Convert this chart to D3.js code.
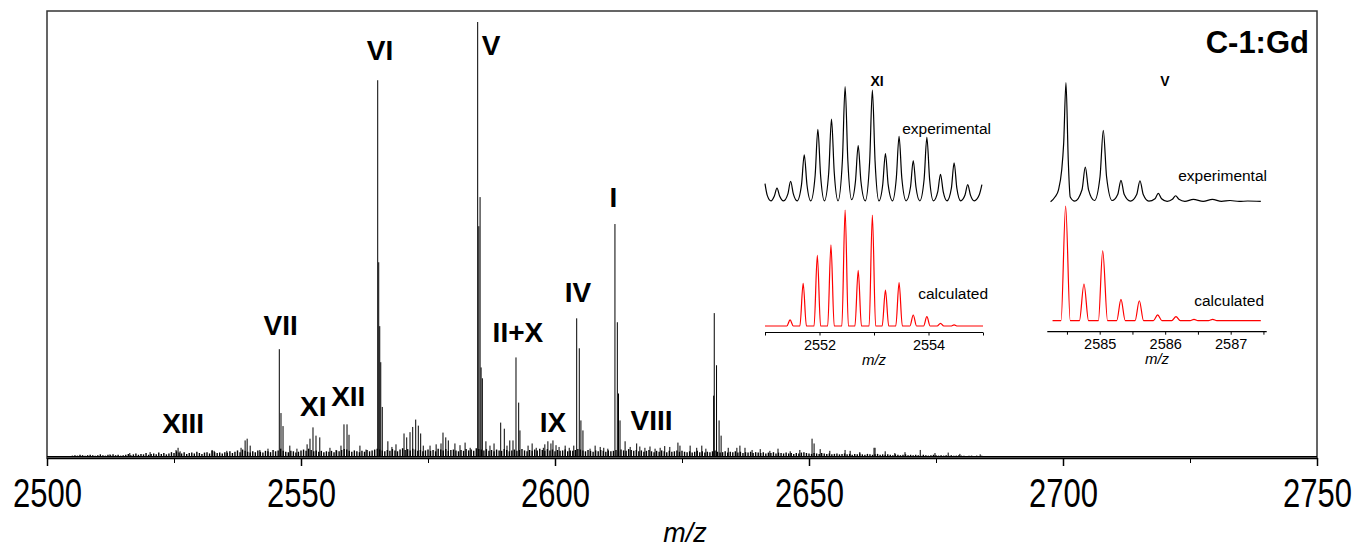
<!DOCTYPE html>
<html><head><meta charset="utf-8">
<script src="https://cdn.jsdelivr.net/npm/d3@7"></script>
<style>body{margin:0;background:#fff}svg{display:block}</style>
</head><body>
<svg id="c" width="1354" height="547"></svg>
<script>
// ---------------- DATA ----------------
const mainTicks = [2500, 2550, 2600, 2650, 2700, 2750];
const minorTicks = [2525, 2575, 2625, 2675, 2725];
// main spectrum peaks [m/z, relative intensity %]
const mainPeaks = [
  [2516.3,0.8],[2512.4,0.5],[2520.3,1.0],
  [2525.4,1.5],[2525.8,2.0],[2526.2,1.2],
  [2532.5,1.5],[2532.9,1.3],[2535.4,1.3],
  [2538.2,2.0],[2539.0,3.7],[2539.4,4.1],[2540.0,2.5],
  [2541.9,1.5],[2543.5,1.8],
  [2545.73,24.7],[2546.06,10.0],[2546.46,7.0],[2547.8,2.5],[2549.2,1.8],
  [2551.2,2.8],[2551.77,4.1],[2552.36,6.7],[2552.95,4.8],[2553.7,4.4],
  [2555.7,2.0],[2556.9,1.5],
  [2557.87,2.5],[2558.46,7.4],[2559.06,7.4],[2559.45,5.0],
  [2561.6,2.5],[2562.8,1.6],
  [2565.1,86.6],[2565.3,44.7],[2565.5,30.0],[2565.7,21.7],[2566.0,11.4],
  [2567.1,3.5],[2567.9,2.2],[2568.7,2.8],
  [2570.28,5.3],[2570.81,4.4],[2571.46,5.6],[2571.99,6.8],[2572.58,8.5],[2573.09,7.1],[2573.56,5.3],[2574.07,2.5],
  [2575.4,2.5],[2576.6,2.8],
  [2577.56,3.0],[2577.95,5.5],[2578.5,4.4],[2579.0,3.7],
  [2580.3,3.0],[2581.3,2.6],[2582.3,3.2],[2583.3,2.0],
  [2584.78,100],[2585.0,53],[2585.25,59.7],[2585.45,20.5],[2585.7,18],
  [2586.4,3.5],[2587.2,2.5],[2588.0,3.0],
  [2589.31,7.8],[2590.02,6.4],[2590.55,2.5],[2591.1,3.7],
  [2591.73,3.7],[2592.32,22.8],[2592.85,12.4],[2593.1,6.0],
  [2594.7,2.5],[2595.5,3.0],[2596.3,2.0],
  [2597.7,2.0],[2598.0,2.8],[2598.6,3.5],[2599.2,3.0],[2599.6,3.7],[2600.2,2.6],[2600.8,2.2],
  [2602.0,2.5],[2602.8,2.0],
  [2603.7,2.5],[2604.27,31.8],[2604.78,24.9],[2605.1,8.3],[2605.5,6.0],
  [2606.9,1.8],[2607.9,2.5],[2608.9,2.2],[2609.6,2.0],[2610.4,1.8],
  [2611.8,53.5],[2612.27,30.9],[2612.5,14.5],[2612.8,8.3],
  [2613.8,3.5],[2614.8,2.2],
  [2616.08,3.0],[2616.7,2.3],[2617.7,2.0],[2618.7,2.3],[2619.7,1.8],
  [2620.7,2.0],[2621.6,2.4],[2622.6,2.2],
  [2624.2,3.2],[2624.6,2.5],[2626.6,2.5],[2627.9,2.0],[2628.9,2.5],[2629.7,1.8],
  [2631.23,14.0],[2631.35,33.0],[2631.8,21.0],[2632.3,8.3],[2632.7,4.8],
  [2634.1,2.0],[2635.8,2.0],[2636.4,2.5],[2637.4,2.0],[2638.8,1.5],
  [2640.4,1.7],[2642.3,1.3],[2643.9,1.8],[2646.3,1.2],[2648.2,1.5],
  [2650.6,4.1],[2651.0,3.0],[2652.2,1.7],[2654.1,1.3],
  [2657.1,1.5],[2658.1,1.3],[2660.0,1.0],[2662.8,2.0],[2663.0,2.0],
  [2665.0,1.2],[2666.9,0.8],[2668.9,1.0],[2671.9,1.5],[2674.8,0.8],
  [2677.4,0.9],[2679.7,0.6],[2683.7,0.5]
];
// baseline noise sampled every 0.5 m/z from 2505
const noiseStart = 2505, noiseStep = 0.5;
const noiseHeights = [
  0.2,0.3,0.2,0.4,0.3,0.2,0.3,0.4,0.3,0.2,0.3,0.5,0.3,0.2,0.4,0.3,0.5,0.3,0.4,0.2,0.3,
  0.4,0.6,0.3,0.5,0.7,0.4,0.6,0.5,0.8,0.4,0.6,0.7,0.5,0.9,0.6,0.8,0.5,0.7,1.0,0.8,
  1.2,0.9,0.7,1.0,0.6,0.8,0.9,0.7,1.1,0.8,0.6,0.9,1.0,0.7,1.3,1.0,0.8,0.9,0.7,1.0,
  0.9,1.2,0.8,1.1,1.4,1.0,1.6,1.3,1.1,0.9,1.2,1.0,1.4,1.1,0.9,1.3,1.2,1.0,1.5,1.2,
  1.4,1.8,1.3,1.1,1.0,1.3,1.2,0.9,1.1,1.4,1.6,1.3,1.8,1.5,1.2,1.4,1.1,1.3,1.0,1.2,
  1.1,1.3,1.0,1.4,1.2,1.5,1.7,1.6,1.3,1.1,1.4,1.2,1.0,1.3,1.1,1.5,1.2,1.4,1.6,1.8,
  1.6,1.4,1.2,1.5,1.3,1.7,1.4,1.2,1.6,1.9,1.5,1.7,1.4,1.8,1.6,1.3,1.5,1.2,1.4,1.6,
  1.3,1.5,1.2,1.8,1.6,1.4,1.7,1.3,1.5,1.6,1.4,1.2,1.5,1.3,1.7,1.4,1.6,1.3,1.9,1.7,
  1.6,1.4,1.7,1.3,1.5,1.2,1.6,1.4,1.3,1.7,1.5,1.2,1.4,1.6,1.3,1.5,1.7,1.4,1.2,1.5,
  1.3,1.6,1.4,1.8,1.5,1.3,1.7,1.4,1.6,1.2,1.5,1.3,1.4,1.6,1.2,1.4,1.3,1.5,1.7,1.6,
  1.4,1.2,1.5,1.3,1.1,1.4,1.2,1.5,1.3,1.1,1.4,1.2,1.3,1.5,1.2,1.6,1.4,1.3,1.7,1.5,
  1.3,1.5,1.2,1.4,1.1,1.3,1.5,1.2,1.0,1.3,1.1,1.4,1.2,1.0,1.3,1.1,1.2,1.4,1.1,1.3,
  1.1,1.0,1.2,0.9,1.1,1.3,1.0,1.2,0.9,1.1,1.0,1.2,1.4,1.1,0.9,1.0,1.2,0.9,1.1,1.0,
  1.2,0.9,1.1,0.8,1.0,0.9,1.1,0.8,1.0,0.9,0.8,1.0,0.7,0.9,0.8,1.0,0.7,0.9,0.8,0.7,
  0.9,0.7,0.8,0.6,0.8,0.7,0.9,1.0,0.8,0.7,0.6,0.8,0.7,0.6,0.8,0.7,0.6,0.7,0.5,0.6,
  0.7,0.5,0.6,0.7,0.5,0.6,0.4,0.6,0.5,0.7,0.5,0.4,0.6,0.5,0.4,0.5,0.6,0.4,0.5,0.4,
  0.5,0.4,0.3,0.5,0.4,0.3,0.4,0.5,0.3,0.4,0.3,0.4,0.3,0.2,0.4,0.3,0.2,0.3,0.4,0.3,
  0.2,0.3,0.2,0.3,0.2,0.3,0.2,0.2,0.3,0.2,0.2,0.1,0.2,0.2,0.1,0.2,0.1,0.2,0.1,0.1
];
// peak labels (in data coordinates: m/z, intensity)
const labelNames = ["VI","V","I","IV","II+X","IX","VIII","VII","XI","XII","XIII"];
const labelAt = [[2565.55,93.5],[2587.4,94.7],[2611.5,59.7],[2604.5,37.8],[2592.7,28.6],[2599.6,7.9],
                 [2619.0,8.3],[2546.0,30.2],[2552.4,11.4],[2559.3,13.7],[2526.8,7.5]];
const title = "C-1:Gd";

// inset XI
const insetXIDomain = [2551, 2555];
const insetXITicks = [2551, 2552, 2553, 2554, 2555];
const insetXILabels = [2552, 2554];
const expXI = [[2551.00,16],[2551.04,6],[2551.11,1],[2551.17,5],[2551.22,12],[2551.27,5],[2551.34,1],
  [2551.42,7],[2551.47,18],[2551.52,7],[2551.59,1],[2551.67,15],[2551.72,41],[2551.77,15],[2551.84,1],
  [2551.92,23],[2551.97,63],[2552.02,23],[2552.09,1],[2552.17,26],[2552.22,72],[2552.27,26],[2552.34,1],
  [2552.42,36],[2552.47,100],[2552.52,36],[2552.59,2],[2552.66,18],[2552.71,49],[2552.76,18],[2552.84,1],
  [2552.92,35],[2552.97,97],[2553.02,35],[2553.09,1],[2553.16,15],[2553.21,42],[2553.26,15],[2553.34,1],
  [2553.41,21],[2553.46,57],[2553.51,21],[2553.59,1],[2553.67,13],[2553.72,36],[2553.77,13],[2553.84,1],
  [2553.92,20],[2553.97,56],[2554.02,20],[2554.09,1],[2554.17,9],[2554.22,24],[2554.27,9],[2554.34,1],
  [2554.42,12],[2554.47,34],[2554.52,12],[2554.59,1],[2554.67,6],[2554.72,15],[2554.77,6],[2554.84,1],
  [2554.93,6],[2554.98,15]];
const calcXI = [[2551.00,0],[2551.40,0],[2551.46,5.2],[2551.52,0],[2551.64,0],[2551.70,36.8],[2551.76,0],
  [2551.90,0],[2551.96,61],[2552.02,0],[2552.15,0],[2552.21,70],[2552.27,0],[2552.41,0],[2552.47,100],[2552.53,0],
  [2552.65,0],[2552.71,48],[2552.77,0],[2552.91,0],[2552.97,95.7],[2553.03,0],[2553.15,0],[2553.21,31],[2553.27,0],
  [2553.40,0],[2553.46,37.4],[2553.52,0],[2553.66,0],[2553.72,9.5],[2553.78,0],[2553.91,0],[2553.97,8],[2554.03,0],
  [2554.16,0],[2554.22,2.3],[2554.28,0],[2554.41,0],[2554.47,1],[2554.53,0],[2555.0,0]];

// inset V
const insetVDomain = [2584.2, 2587.55];
const insetVTicks = [2584.5, 2585, 2585.5, 2586, 2586.5, 2587, 2587.5];
const insetVLabels = [2585, 2586, 2587];
const expV = [[2584.25,0],[2584.32,4.2],[2584.37,9.8],[2584.42,26.6],[2584.45,49],[2584.485,100],[2584.52,35],
  [2584.55,4],[2584.62,0.5],[2584.73,10],[2584.78,29],[2584.83,10],[2584.92,1],[2585.005,21],[2585.055,60],
  [2585.105,21],[2585.19,1],[2585.275,6],[2585.325,18],[2585.375,6],[2585.47,0.5],[2585.565,6],[2585.615,17.6],
  [2585.665,6],[2585.75,0.5],[2585.845,2.5],[2585.895,7],[2585.945,2.5],[2586.03,0.3],[2586.11,2],[2586.16,5],
  [2586.21,2],[2586.30,0.3],[2586.43,2],[2586.58,0.3],[2586.72,2],[2586.86,0.3],[2586.99,1],[2587.13,0.2],
  [2587.26,0.6],[2587.46,0.3]];
const calcV = [[2584.28,0],[2584.41,0],[2584.48,100],[2584.55,0],[2584.69,0],[2584.76,32],[2584.83,0],
  [2584.98,0],[2585.046,61],[2585.12,0],[2585.26,0],[2585.325,18.6],[2585.39,0],[2585.54,0],[2585.605,17.4],[2585.67,0],
  [2585.82,0],[2585.885,5],[2585.95,0],[2586.10,0],[2586.165,3.5],[2586.23,0],[2586.38,0],[2586.44,1.2],[2586.50,0],
  [2586.66,0],[2586.725,1.2],[2586.79,0],[2587.46,0]];

// ---------------- DRAW ----------------
const svg = d3.select("#c");
const FONT = "'Liberation Sans', Arial, Helvetica, sans-serif";
const x = d3.scaleLinear().domain([2500, 2750]).range([47, 1317]);
const y = d3.scaleLinear().domain([0, 100]).range([456.5, 22]);

// frame
svg.append("rect").attr("x", 47).attr("y", 11).attr("width", 1270).attr("height", 447)
  .attr("fill", "none").attr("stroke", "#333").attr("stroke-width", 1.5);

// noise sticks
svg.append("g").selectAll("line").data(noiseHeights).join("line")
  .attr("x1", (d, i) => x(noiseStart + i * noiseStep)).attr("x2", (d, i) => x(noiseStart + i * noiseStep))
  .attr("y1", y(0)).attr("y2", d => y(d)).attr("stroke", "#000").attr("stroke-width", 1.4);
// baseline
svg.append("line").attr("x1", x(2500)).attr("x2", x(2750)).attr("y1", y(0)).attr("y2", y(0))
  .attr("stroke", "#000").attr("stroke-width", 1.2);
// peaks
svg.append("g").selectAll("line").data(mainPeaks).join("line")
  .attr("x1", d => x(d[0])).attr("x2", d => x(d[0]))
  .attr("y1", y(0)).attr("y2", d => y(d[1])).attr("stroke", "#000").attr("stroke-width", 1);

// axis
const ax = svg.append("g").attr("transform", "translate(0,458)")
  .call(d3.axisBottom(x).tickValues(mainTicks).tickSize(8).tickSizeOuter(0).tickFormat(d3.format("d")));
ax.select(".domain").attr("stroke-width", 1.5);
ax.selectAll(".tick line").attr("stroke-width", 1.5);
ax.selectAll(".tick text").attr("font-family", FONT).attr("font-size", 31).attr("fill", "#000")
  .attr("y", 15.4).attr("transform", "scale(1,1.3)");
svg.append("g").attr("transform", "translate(0,458)")
  .call(d3.axisBottom(x).tickValues(minorTicks).tickSize(5).tickFormat(""))
  .call(g => g.select(".domain").remove());

svg.append("text").attr("x", 685).attr("y", 533).attr("text-anchor", "middle")
  .attr("dominant-baseline", "central").attr("font-family", FONT).attr("font-style", "italic")
  .attr("font-size", 27).text("m/z");

// labels
svg.append("g").selectAll("text").data(labelNames).join("text")
  .attr("x", (d, i) => x(labelAt[i][0])).attr("y", (d, i) => y(labelAt[i][1]))
  .attr("text-anchor", "middle").attr("dominant-baseline", "central")
  .attr("font-family", FONT).attr("font-weight", "bold").attr("font-size", 28).text(d => d);
svg.append("text").attr("x", 1309).attr("y", 42).attr("text-anchor", "end").attr("dominant-baseline", "central")
  .attr("font-family", FONT).attr("font-weight", "bold").attr("font-size", 31).text(title);

// insets
function inset(cfg) {
  const xi = d3.scaleLinear().domain(cfg.domain).range(cfg.range);
  const ye = d3.scaleLinear().domain([0, 100]).range(cfg.expY);
  const yc = d3.scaleLinear().domain([0, 100]).range(cfg.calcY);
  const g = svg.append("g");
  g.append("path").datum(cfg.exp).attr("fill", "none").attr("stroke", "#000").attr("stroke-width", 1.2)
    .attr("d", d3.line().x(d => xi(d[0])).y(d => ye(d[1])).curve(d3.curveMonotoneX));
  g.append("path").datum(cfg.calc).attr("fill", "none").attr("stroke", "#ff0000").attr("stroke-width", 1.2)
    .attr("d", d3.line().x(d => xi(d[0])).y(d => yc(d[1])).curve(d3.curveMonotoneX));
  const a = g.append("g").attr("transform", `translate(0,${cfg.axisY})`)
    .call(d3.axisBottom(xi).tickValues(cfg.ticks).tickSize(3).tickSizeOuter(0)
      .tickFormat(d => cfg.labels.includes(d) ? d3.format("d")(d) : ""));
  a.select(".domain").attr("stroke-width", 1.2).attr("d", `M${cfg.range[0]},0H${cfg.range[1]}`);
  a.selectAll(".tick text").attr("font-family", FONT).attr("font-size", 14.5).attr("fill", "#000").attr("y", 7);
  g.append("text").attr("x", d3.mean(cfg.range)).attr("y", cfg.axisY + 27).attr("text-anchor", "middle")
    .attr("dominant-baseline", "central").attr("font-family", FONT).attr("font-style", "italic")
    .attr("font-size", 15).text("m/z");
  g.append("text").attr("x", cfg.txtX).attr("y", cfg.expTxtY).attr("text-anchor", "end")
    .attr("dominant-baseline", "central").attr("font-family", FONT).attr("font-size", 15.5).text("experimental");
  g.append("text").attr("x", cfg.txtX - 3).attr("y", cfg.calcTxtY).attr("text-anchor", "end")
    .attr("dominant-baseline", "central").attr("font-family", FONT).attr("font-size", 15.5).text("calculated");
  g.append("text").attr("x", cfg.tagX).attr("y", 81).attr("text-anchor", "middle")
    .attr("dominant-baseline", "central").attr("font-family", FONT).attr("font-weight", "bold")
    .attr("font-size", 14).text(cfg.tag);
}
inset({domain: insetXIDomain, range: [765, 983], expY: [202, 86.7], calcY: [326, 210], axisY: 332.5,
  ticks: insetXITicks, labels: insetXILabels, exp: expXI, calc: calcXI,
  txtX: 991, expTxtY: 128, calcTxtY: 293, tagX: 877, tag: "XI"});
inset({domain: insetVDomain, range: [1047.3, 1266.7], expY: [201.7, 82.7], calcY: [320.7, 206], axisY: 331.7,
  ticks: insetVTicks, labels: insetVLabels, exp: expV, calc: calcV,
  txtX: 1267, expTxtY: 175, calcTxtY: 300, tagX: 1165, tag: "V"});
</script>
</body></html>
